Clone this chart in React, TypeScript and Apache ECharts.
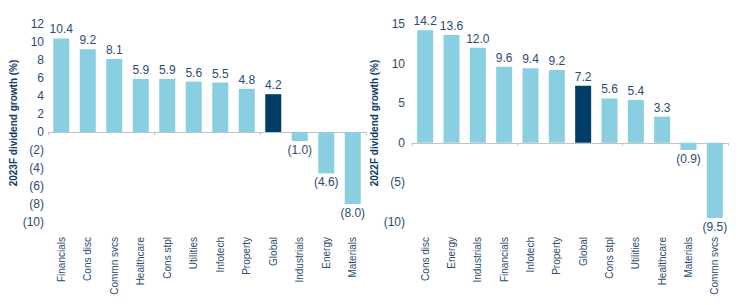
import React, { useEffect, useRef } from "react";
import * as echarts from "echarts";

const cats2023 = ["Financials", "Cons disc", "Commn svcs", "Healthcare", "Cons stpl", "Utilities", "Infotech", "Property", "Global", "Industrials", "Energy", "Materials"];
const vals2023 = [10.4, 9.2, 8.1, 5.9, 5.9, 5.6, 5.5, 4.8, 4.2, -1.0, -4.6, -8.0];
const cats2022 = ["Cons disc", "Energy", "Industrials", "Financials", "Infotech", "Property", "Global", "Cons stpl", "Utilities", "Healthcare", "Materials", "Commn svcs"];
const vals2022 = [14.2, 13.6, 12.0, 9.6, 9.4, 9.2, 7.2, 5.6, 5.4, 3.3, -0.9, -9.5];
const highlight = "Global";

const LIGHT = "#89cfe1";
const DARK = "#023d67";
const TEXT = "#2d4b6e";
const FONT = "'Liberation Sans Narrow', 'Arial Narrow', 'Liberation Sans', sans-serif";

const fmtNeg = (v: number, dec: number) => {
  const s = Math.abs(v).toFixed(dec);
  return v < 0 ? `(${s})` : s;
};

function barData(cats: string[], vals: number[]) {
  return vals.map((v, i) => ({
    value: v,
    itemStyle: { color: cats[i] === highlight ? DARK : LIGHT },
    label: { position: v < 0 ? "bottom" : "top" },
  }));
}

export default function App() {
  const ref = useRef<HTMLDivElement>(null);
  useEffect(() => {
    if (!ref.current) return;
    const chart = echarts.init(ref.current, undefined, { renderer: "svg" });
    const grids = [
      { left: 48, top: 24, width: 318, height: 198 },
      { left: 412, top: 24, width: 316, height: 198 },
    ];
    const cats = [cats2023, cats2022];
    const xAxis: any[] = [];
    cats.forEach((c, gi) => {
      xAxis.push({
        type: "category",
        gridIndex: gi,
        data: c,
        axisLine: { onZero: true, lineStyle: { color: "#c4c4c4", width: 1 } },
        axisTick: { show: true, inside: false, length: 3, alignWithLabel: false, lineStyle: { color: "#c4c4c4" } },
        axisLabel: { show: false },
        splitLine: { show: false },
      });
      xAxis.push({
        type: "category",
        gridIndex: gi,
        data: c,
        position: "bottom",
        axisLine: { show: false, onZero: false },
        axisTick: { show: false },
        axisLabel: { rotate: 90, margin: 15, color: TEXT, fontSize: 10, fontFamily: FONT },
      });
    });
    const nameStyle = { color: "#0d3b66", fontSize: 10, fontWeight: 600, fontFamily: FONT };
    const yAxis = [
      {
        type: "value",
        gridIndex: 0,
        min: -10,
        max: 12,
        interval: 2,
        name: "2023F dividend growth (%)",
        nameLocation: "middle",
        nameGap: 24,
        nameTextStyle: nameStyle,
        axisLine: { show: false },
        axisTick: { show: false },
        splitLine: { show: false },
        axisLabel: { color: TEXT, fontSize: 12, fontFamily: FONT, margin: 4, formatter: (v: number) => fmtNeg(v, 0) },
      },
      {
        type: "value",
        gridIndex: 1,
        min: -10,
        max: 15,
        interval: 5,
        name: "2022F dividend growth (%)",
        nameLocation: "middle",
        nameGap: 28,
        nameTextStyle: nameStyle,
        axisLine: { show: false },
        axisTick: { show: false },
        splitLine: { show: false },
        axisLabel: { color: TEXT, fontSize: 12, fontFamily: FONT, margin: 7, formatter: (v: number) => fmtNeg(v, 0) },
      },
    ];
    const mkSeries = (c: string[], v: number[], xi: number, yi: number) => ({
      type: "bar",
      xAxisIndex: xi,
      yAxisIndex: yi,
      data: barData(c, v),
      barWidth: 16,
      label: {
        show: true,
        color: TEXT,
        fontSize: 12,
        fontFamily: FONT,
        distance: 3,
        formatter: (p: any) => fmtNeg(p.value, 1),
      },
    });
    chart.setOption({
      animation: false,
      textStyle: { fontFamily: FONT },
      grid: grids,
      xAxis,
      yAxis,
      series: [mkSeries(cats2023, vals2023, 0, 0), mkSeries(cats2022, vals2022, 2, 1)],
    });
    return () => chart.dispose();
  }, []);
  return (
    <div
      ref={ref}
      style={{ position: "fixed", left: 0, top: 0, width: 750, height: 305, background: "#fff" }}
    />
  );
}
